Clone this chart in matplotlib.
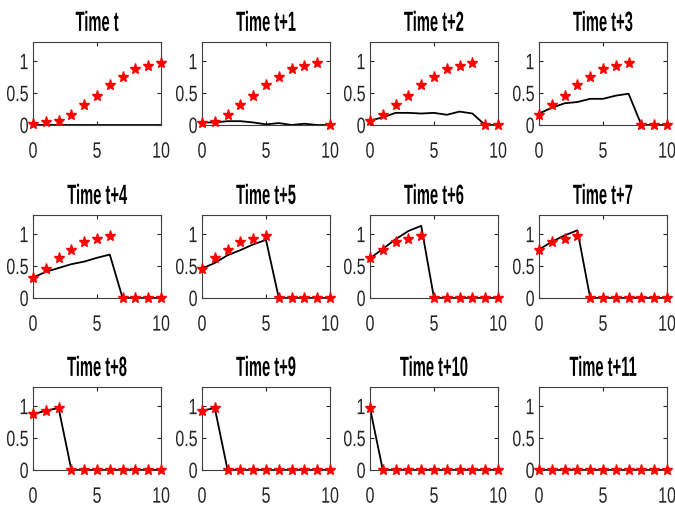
import matplotlib.pyplot as plt
import numpy as np
from matplotlib.patheffects import AbstractPathEffect
from matplotlib.transforms import Affine2D

plt.rcParams['font.family'] = ['Liberation Sans', 'DejaVu Sans']

x = np.arange(11)

titles = ["Time t", "Time t+1", "Time t+2", "Time t+3",
          "Time t+4", "Time t+5", "Time t+6", "Time t+7",
          "Time t+8", "Time t+9", "Time t+10", "Time t+11"]

# red stars: actual values
actual_t0 = [0.02, 0.04, 0.07, 0.16, 0.31, 0.46, 0.63, 0.75, 0.88, 0.93, 0.97]
actual_t1 = [0.03, 0.05, 0.15, 0.31, 0.46, 0.62, 0.75, 0.88, 0.93, 0.97, 0.0]
actual_t2 = [0.07, 0.16, 0.31, 0.46, 0.63, 0.75, 0.88, 0.93, 0.97, 0.0, 0.0]
actual_t3 = [0.16, 0.31, 0.46, 0.63, 0.75, 0.88, 0.93, 0.97, 0.0, 0.0, 0.0]
actual_t4 = [0.31, 0.46, 0.63, 0.75, 0.88, 0.93, 0.97, 0.0, 0.0, 0.0, 0.0]
actual_t5 = [0.46, 0.63, 0.75, 0.88, 0.93, 0.97, 0.0, 0.0, 0.0, 0.0, 0.0]
actual_t6 = [0.63, 0.75, 0.88, 0.93, 0.97, 0.0, 0.0, 0.0, 0.0, 0.0, 0.0]
actual_t7 = [0.75, 0.88, 0.93, 0.97, 0.0, 0.0, 0.0, 0.0, 0.0, 0.0, 0.0]
actual_t8 = [0.88, 0.93, 0.97, 0.0, 0.0, 0.0, 0.0, 0.0, 0.0, 0.0, 0.0]
actual_t9 = [0.93, 0.97, 0.0, 0.0, 0.0, 0.0, 0.0, 0.0, 0.0, 0.0, 0.0]
actual_t10 = [0.97, 0.0, 0.0, 0.0, 0.0, 0.0, 0.0, 0.0, 0.0, 0.0, 0.0]
actual_t11 = [0.0, 0.0, 0.0, 0.0, 0.0, 0.0, 0.0, 0.0, 0.0, 0.0, 0.0]

# black lines: predicted values
pred_t0 = [0.0, 0.0, 0.0, 0.0, 0.0, 0.0, 0.0, 0.0, 0.0, 0.0, 0.0]
pred_t1 = [0.04, 0.04, 0.06, 0.06, 0.04, 0.01, 0.03, 0.0, 0.02, 0.0, 0.0]
pred_t2 = [0.07, 0.12, 0.19, 0.19, 0.18, 0.19, 0.16, 0.21, 0.18, 0.0, 0.0]
pred_t3 = [0.18, 0.27, 0.34, 0.36, 0.41, 0.41, 0.46, 0.49, 0.0, 0.0, 0.0]
pred_t4 = [0.32, 0.41, 0.47, 0.53, 0.57, 0.63, 0.68, 0.0, 0.0, 0.0, 0.0]
pred_t5 = [0.46, 0.55, 0.67, 0.75, 0.84, 0.91, 0.0, 0.0, 0.0, 0.0, 0.0]
pred_t6 = [0.62, 0.77, 0.92, 1.05, 1.13, 0.0, 0.0, 0.0, 0.0, 0.0, 0.0]
pred_t7 = [0.76, 0.88, 0.98, 1.06, 0.0, 0.0, 0.0, 0.0, 0.0, 0.0, 0.0]
pred_t8 = [0.87, 0.93, 0.97, 0.0, 0.0, 0.0, 0.0, 0.0, 0.0, 0.0, 0.0]
pred_t9 = [0.93, 0.97, 0.0, 0.0, 0.0, 0.0, 0.0, 0.0, 0.0, 0.0, 0.0]
pred_t10 = [0.97, 0.0, 0.0, 0.0, 0.0, 0.0, 0.0, 0.0, 0.0, 0.0, 0.0]
pred_t11 = [0.0, 0.0, 0.0, 0.0, 0.0, 0.0, 0.0, 0.0, 0.0, 0.0, 0.0]

actual = [actual_t0, actual_t1, actual_t2, actual_t3, actual_t4, actual_t5,
          actual_t6, actual_t7, actual_t8, actual_t9, actual_t10, actual_t11]
pred = [pred_t0, pred_t1, pred_t2, pred_t3, pred_t4, pred_t5,
        pred_t6, pred_t7, pred_t8, pred_t9, pred_t10, pred_t11]


class Narrow(AbstractPathEffect):
    # squeeze the glyphs horizontally, like the condensed MATLAB font
    def __init__(self, sx, anchor='center'):
        super().__init__()
        self.sx = sx
        self.anchor = anchor

    def draw_path(self, renderer, gc, tpath, affine, rgbFace=None):
        ext = tpath.get_extents()
        if self.anchor == 'right':
            xc = ext.x1
        else:
            xc = (ext.x0 + ext.x1) / 2
        squeeze = Affine2D().translate(-xc, 0).scale(self.sx, 1).translate(xc, 0)
        renderer.draw_path(gc, tpath, squeeze + affine, rgbFace)


W, H = 675, 510
fig = plt.figure(figsize=(W / 100, H / 100), dpi=100)

lefts = [33, 202, 370, 539]
tops = [43, 216, 388]
aw, ah = 128, 83

for i in range(12):
    r, c = divmod(i, 4)
    ax = fig.add_axes([lefts[c] / W, 1 - (tops[r] + ah) / H, aw / W, ah / H])
    ax.plot(x, pred[i], '-', color='black', lw=1.3, zorder=2, clip_on=False)
    ax.plot(x, actual[i], linestyle='none', marker='*', ms=8, color='red',
            mec='red', zorder=3, clip_on=False)
    ax.set_xlim(0, 10)
    ax.set_ylim(0, 1.3)
    ax.set_xticks([0, 5, 10])
    ax.set_yticks([0, 0.5, 1])
    ax.set_yticklabels(['0', '0.5', '1'])
    ax.tick_params(direction='in', top=True, right=True, length=3,
                   labelsize=16, colors='#262626')
    ax.tick_params(axis='x', pad=12)
    ax.tick_params(axis='y', pad=3)
    for s in ax.spines.values():
        s.set_color('#404040')
        s.set_linewidth(0.8)
    for lab in ax.get_xticklabels():
        lab.set_path_effects([Narrow(0.72)])
    for lab in ax.get_yticklabels():
        lab.set_path_effects([Narrow(0.72, 'right')])
    t = ax.set_title(titles[i], fontsize=20, fontweight='bold', pad=8)
    t.set_path_effects([Narrow(0.53)])

fig.savefig('out.png', dpi=100)
